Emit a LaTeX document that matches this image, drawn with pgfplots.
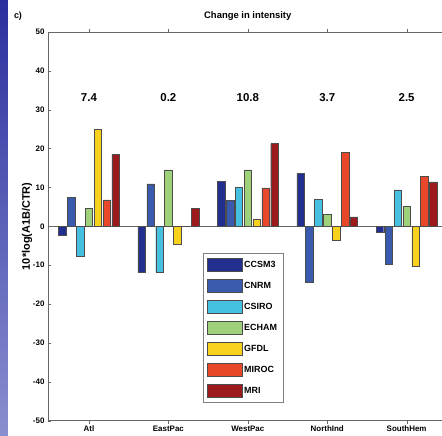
\documentclass[border=0pt]{standalone}
\usepackage{pgfplots}
\usepackage{pgfplotstable}
\usepackage{fontspec}
\setmainfont{Liberation Sans}
\pgfplotsset{compat=1.18}

\definecolor{cCCSM}{HTML}{222F8E}
\definecolor{cCNRM}{HTML}{3A5AAD}
\definecolor{cCSIRO}{HTML}{45C0E0}
\definecolor{cECHAM}{HTML}{9FD07A}
\definecolor{cGFDL}{HTML}{F7D11C}
\definecolor{cMIROC}{HTML}{E8472A}
\definecolor{cMRI}{HTML}{9C1A1C}
\definecolor{slide}{HTML}{2B2F9E}
\definecolor{slidelight}{HTML}{8A8FD0}

% change in intensity per basin, one column per model
\pgfplotstableread{
x  ccsm3  cnrm   csiro  echam  gfdl   miroc  mri
1  -2.2   7.5    -7.7   4.7    25.0   6.8    18.6
2  -11.9  10.9   -11.9  14.5   -4.5   0.0    4.6
3  11.6   6.7    10.1   14.5   1.8    9.9    21.3
4  13.6   -14.5  6.9    3.0    -3.5   19.1   2.4
5  -1.6   -9.7   9.4    5.1    -10.3  12.9   11.4
}\intensity

\begin{document}
\begin{tikzpicture}
% page frame; the crop of the slide ends where the axis' right side would be
\path (-48bp,-15bp) rectangle (394bp,421bp);
\shade[top color=slide, bottom color=slidelight] (-48bp,-15bp) rectangle (-40bp,421bp);
\begin{axis}[
  scale only axis,
  at={(0,0)}, anchor=south west,
  width=394bp, height=389bp,
  xmin=0.484, xmax=5.44,
  ymin=-50, ymax=50,
  axis x line*=box,
  axis y line*=left,
  ytick={-50,-40,...,50},
  xtick={1,2,3,4,5},
  xticklabels={Atl,EastPac,WestPac,NorthInd,SouthHem},
  tick align=inside,
  xtick pos=both,
  major tick length=3bp,
  axis line style={draw=black!60, line width=0.8pt},
  tick style={black!60},
  tick label style={font=\fontsize{8}{9}\selectfont\bfseries},
  xticklabel style={yshift=1bp},
  /pgf/number format/assume math mode=true,
  title={Change in intensity},
  title style={font=\fontsize{9.5}{11}\selectfont\bfseries, yshift=2bp, xshift=3bp},
  ylabel={10*log(A1B/CTR)},
  ylabel style={font=\fontsize{11}{13}\selectfont\bfseries, yshift=-6bp},
  ybar=1.4bp,
  bar width=7.5bp,
  every axis plot/.append style={draw=black!70, line width=0.4pt},
  extra y ticks={0},
  extra y tick labels={},
  extra y tick style={grid=major, major grid style={black!60, line width=0.8pt}},
  legend cell align=left,
  legend style={at={(rel axis cs:0.393,0.046)}, anchor=south west,
    draw=black!50, font=\fontsize{9}{10}\selectfont\bfseries,
    row sep=7.6bp, inner xsep=4bp, inner ysep=5bp},
  legend image code/.code={\draw[#1] (0bp,-6.5bp) rectangle (35bp,6.5bp);},
  clip=false,
]
\addplot[fill=cCCSM]  table[x=x, y=ccsm3] {\intensity};
\addplot[fill=cCNRM]  table[x=x, y=cnrm]  {\intensity};
\addplot[fill=cCSIRO] table[x=x, y=csiro] {\intensity};
\addplot[fill=cECHAM] table[x=x, y=echam] {\intensity};
\addplot[fill=cGFDL]  table[x=x, y=gfdl]  {\intensity};
\addplot[fill=cMIROC] table[x=x, y=miroc] {\intensity};
\addplot[fill=cMRI]   table[x=x, y=mri]   {\intensity};
\legend{CCSM3,CNRM,CSIRO,ECHAM,GFDL,MIROC,MRI}
\node[font=\fontsize{11.5}{13}\selectfont\bfseries] at (axis cs:1,33) {7.4};
\node[font=\fontsize{11.5}{13}\selectfont\bfseries] at (axis cs:2,33) {0.2};
\node[font=\fontsize{11.5}{13}\selectfont\bfseries] at (axis cs:3,33) {10.8};
\node[font=\fontsize{11.5}{13}\selectfont\bfseries] at (axis cs:4,33) {3.7};
\node[font=\fontsize{11.5}{13}\selectfont\bfseries] at (axis cs:5,33) {2.5};
\end{axis}
\node[font=\fontsize{9}{10}\selectfont\bfseries] at (-30bp,405bp) {c)};
\end{tikzpicture}
\end{document}
